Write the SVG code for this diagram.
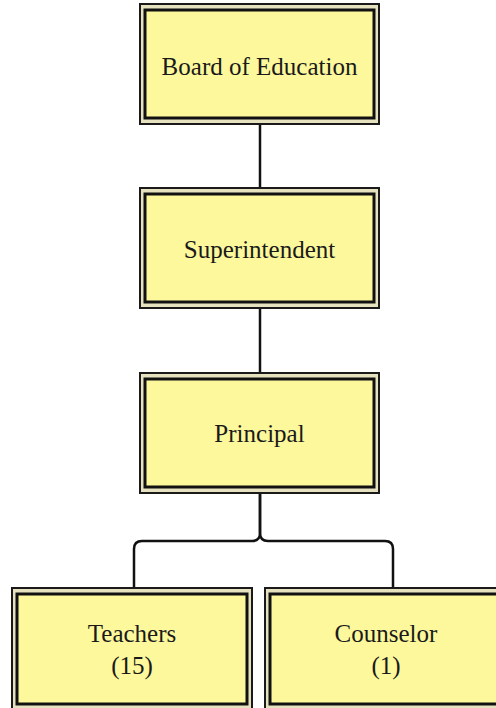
<svg xmlns="http://www.w3.org/2000/svg" width="496" height="708" viewBox="0 0 496 708">
  <style>
    .outer { fill: #e6e2bf; stroke: #1a1a1a; stroke-width: 2; }
    .inner { fill: #fdf89c; stroke: #111; stroke-width: 3; }
    .label { font-family: "Liberation Serif", "Times New Roman", serif; font-size: 25px; fill: #1a1a1a; text-anchor: middle; dominant-baseline: central; }
    .wire { fill: none; stroke: #111; stroke-width: 2.5; stroke-linejoin: round; }
  </style>
  <rect width="496" height="708" fill="#ffffff"/>
  <g id="connectors">
    <line class="wire" x1="260" y1="124" x2="260" y2="188"/>
    <line class="wire" x1="260" y1="308" x2="260" y2="373"/>
    <path class="wire" d="M260 492 V533 Q260 541 252 541 H142 Q134 541 134 549 V588"/>
    <path class="wire" d="M260 492 V533 Q260 541 268 541 H385 Q393 541 393 549 V588"/>
  </g>
  <g id="board">
    <rect class="outer" x="140" y="4" width="239" height="120"/>
    <rect class="inner" x="145" y="10" width="229" height="108"/>
    <text class="label" x="259.5" y="66">Board of Education</text>
  </g>
  <g id="superintendent">
    <rect class="outer" x="140" y="188" width="239" height="120"/>
    <rect class="inner" x="145" y="194" width="229" height="108"/>
    <text class="label" x="259.5" y="249">Superintendent</text>
  </g>
  <g id="principal">
    <rect class="outer" x="140" y="373" width="239" height="120"/>
    <rect class="inner" x="145" y="379" width="229" height="108"/>
    <text class="label" x="259.5" y="433">Principal</text>
  </g>
  <g id="teachers">
    <rect class="outer" x="12" y="588" width="240" height="122"/>
    <rect class="inner" x="17" y="594" width="230" height="110"/>
    <text class="label" x="132" y="633">Teachers</text>
    <text class="label" x="132" y="665">(15)</text>
  </g>
  <g id="counselor">
    <rect class="outer" x="265" y="588" width="240" height="122"/>
    <rect class="inner" x="270" y="594" width="230" height="110"/>
    <text class="label" x="386" y="633">Counselor</text>
    <text class="label" x="386" y="665">(1)</text>
  </g>
</svg>
